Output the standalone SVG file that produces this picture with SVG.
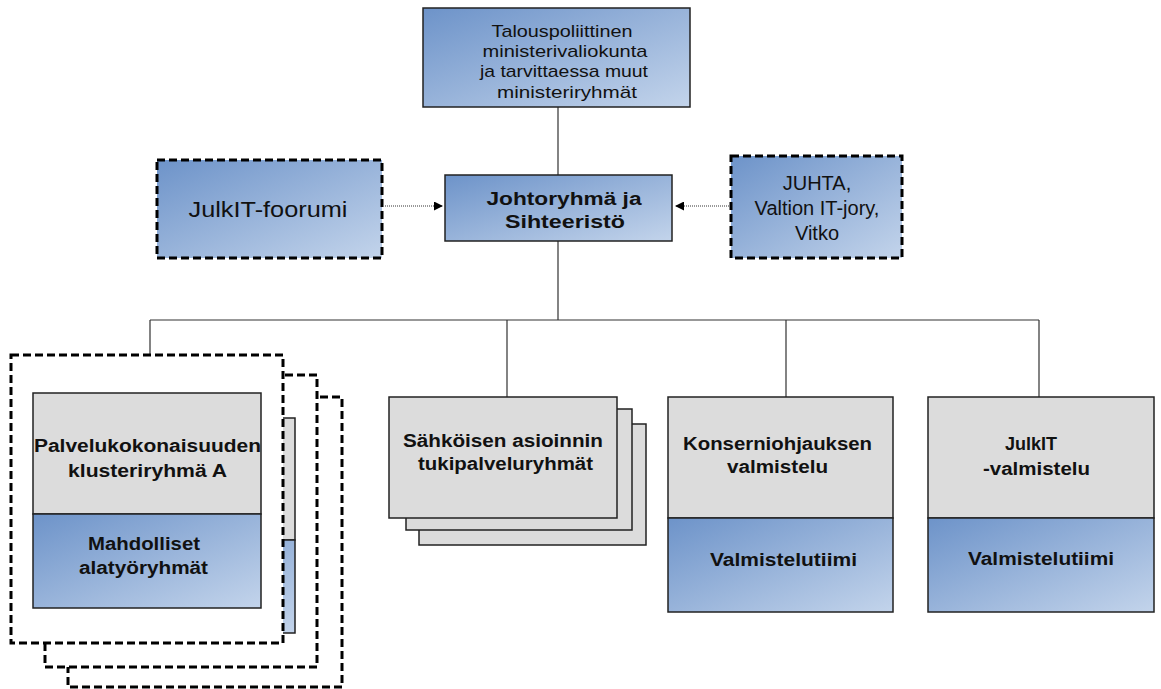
<svg xmlns="http://www.w3.org/2000/svg" width="1161" height="689" viewBox="0 0 1161 689">
<defs>
<linearGradient id="blue" x1="0" y1="0" x2="1" y2="1">
<stop offset="0" stop-color="#6d93c9"/>
<stop offset="1" stop-color="#c3d4eb"/>
</linearGradient>
<marker id="arr" viewBox="0 0 10 10" refX="10" refY="5" markerWidth="9" markerHeight="9" markerUnits="userSpaceOnUse" orient="auto">
<path d="M0,0 L10,5 L0,10 z" fill="#000"/>
</marker>
<style>
.box{stroke:#222;stroke-width:1.5}
.blue{fill:url(#blue)}
.gray{fill:#dcdcdc}
.dash{fill:#fff;stroke:#000;stroke-width:3;stroke-dasharray:8,4}
.dashb{fill:url(#blue);stroke:#000;stroke-width:3;stroke-dasharray:8,4}
.line{stroke:#333;stroke-width:1.2;fill:none}
.dot{stroke:#333;stroke-width:1;stroke-dasharray:1,1;fill:none}
text{font-family:"Liberation Sans",Arial,sans-serif;text-anchor:middle;fill:#111}
.b{font-weight:bold;font-size:18px}
.r{font-size:17px}
.l{font-size:20px}
</style>
</defs>
<rect width="1161" height="689" fill="#fff"/>
<g id="connectors">
<path class="line" d="M558,107 V175 M558,241 V320 M150,320 H1039 M150,320 V393 M507,320 V397 M786,320 V397 M1039,320 V397"/>
<path class="dot" d="M385,206 H443" marker-end="url(#arr)"/>
<path class="dot" d="M729,206 H675" marker-end="url(#arr)"/>
</g>
<g id="top">
<rect class="box blue" x="423" y="8" width="267" height="99"/>
<text class="r" x="562" y="37" textLength="141" lengthAdjust="spacingAndGlyphs">Talouspoliittinen</text>
<text class="r" x="565" y="57" textLength="165" lengthAdjust="spacingAndGlyphs">ministerivaliokunta</text>
<text class="r" x="564" y="77" textLength="168" lengthAdjust="spacingAndGlyphs">ja tarvittaessa muut</text>
<text class="r" x="567" y="98" textLength="140" lengthAdjust="spacingAndGlyphs">ministeriryhmät</text>
</g>
<g id="johto">
<rect class="box blue" x="445" y="175" width="227" height="66"/>
<text class="b" x="564" y="205" textLength="155" lengthAdjust="spacingAndGlyphs">Johtoryhmä ja</text>
<text class="b" x="565" y="228" textLength="120" lengthAdjust="spacingAndGlyphs">Sihteeristö</text>
</g>
<g id="foorumi">
<rect class="dashb" x="157" y="160" width="225" height="98"/>
<text x="268" y="217" style="font-size:22px" textLength="159" lengthAdjust="spacingAndGlyphs">JulkIT-foorumi</text>
</g>
<g id="juhta">
<rect class="dashb" x="731" y="156" width="171" height="102"/>
<text class="l" x="817" y="190">JUHTA,</text>
<text class="l" x="817" y="215">Valtion IT-jory,</text>
<text class="l" x="817" y="240">Vitko</text>
</g>
<g id="klusteri">
<rect class="dash" x="68" y="397" width="274" height="290"/>
<rect class="dash" x="45" y="375" width="272" height="292"/>
<rect class="box gray" x="67" y="418" width="228" height="122"/>
<rect class="box blue" x="67" y="540" width="228" height="93"/>
<rect class="dash" x="11" y="355" width="272" height="288"/>
<rect class="box gray" x="33" y="393" width="228" height="121"/>
<rect class="box blue" x="33" y="514" width="228" height="94"/>
<text class="b" x="147.5" y="452" textLength="227" lengthAdjust="spacingAndGlyphs">Palvelukokonaisuuden</text>
<text class="b" x="147.5" y="477" textLength="159" lengthAdjust="spacingAndGlyphs">klusteriryhmä A</text>
<text class="b" x="144" y="550" textLength="112" lengthAdjust="spacingAndGlyphs">Mahdolliset</text>
<text class="b" x="143.5" y="574" textLength="129" lengthAdjust="spacingAndGlyphs">alatyöryhmät</text>
</g>
<g id="sahkoisen">
<rect class="box gray" x="419" y="424" width="227" height="121"/>
<rect class="box gray" x="406" y="409" width="226" height="121"/>
<rect class="box gray" x="389" y="397" width="228" height="121"/>
<text class="b" x="503" y="447" textLength="200" lengthAdjust="spacingAndGlyphs">Sähköisen asioinnin</text>
<text class="b" x="505.5" y="470" textLength="175" lengthAdjust="spacingAndGlyphs">tukipalveluryhmät</text>
</g>
<g id="konserni">
<rect class="box gray" x="668" y="397" width="225" height="121"/>
<rect class="box blue" x="668" y="518" width="225" height="94"/>
<text class="b" x="777.5" y="450" textLength="189" lengthAdjust="spacingAndGlyphs">Konserniohjauksen</text>
<text class="b" x="777.5" y="473" textLength="101" lengthAdjust="spacingAndGlyphs">valmistelu</text>
<text class="b" x="783.5" y="566" textLength="147" lengthAdjust="spacingAndGlyphs">Valmistelutiimi</text>
</g>
<g id="julkit">
<rect class="box gray" x="928" y="397" width="226" height="121"/>
<rect class="box blue" x="928" y="518" width="226" height="94"/>
<text class="b" x="1031" y="450" textLength="52" lengthAdjust="spacingAndGlyphs">JulkIT</text>
<text class="b" x="1036.5" y="475" textLength="107" lengthAdjust="spacingAndGlyphs">-valmistelu</text>
<text class="b" x="1041" y="565" textLength="146" lengthAdjust="spacingAndGlyphs">Valmistelutiimi</text>
</g>
</svg>
